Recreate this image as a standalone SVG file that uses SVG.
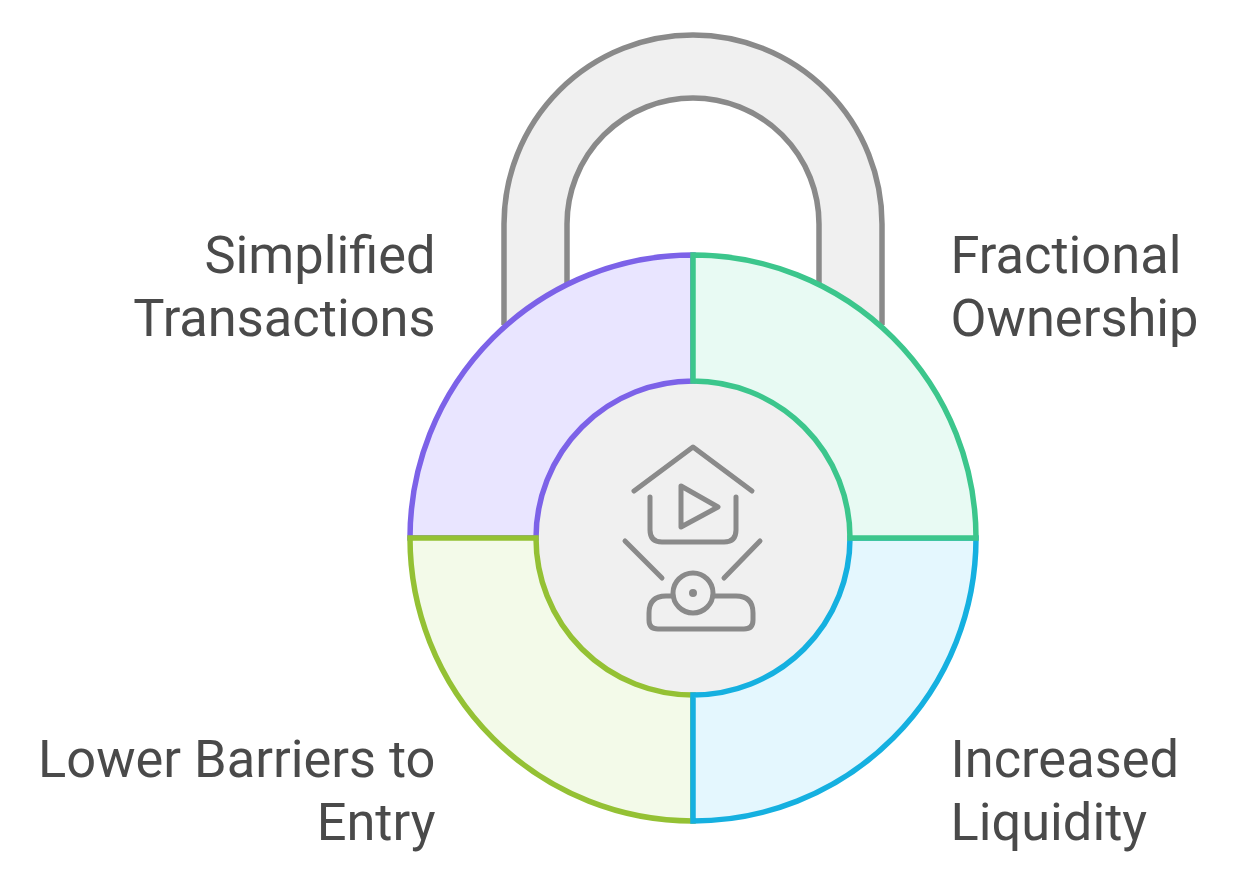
<svg xmlns="http://www.w3.org/2000/svg" width="1260" height="885" viewBox="0 0 1260 885">
<style>
.t{font-family:Roboto,"Liberation Sans",sans-serif;font-size:52.4px;fill:#4a4a4a}
.e{text-anchor:end}
.seg{stroke-width:5.5}
.ic{fill:none;stroke:#8a8a8a;stroke-width:5;stroke-linecap:round;stroke-linejoin:round}
</style>
<rect width="1260" height="885" fill="#fff"/>
<g id="shackle"><path d="M504 325V224A189 189 0 0 1 882 224V325L819 283V224A126 126 0 0 0 567 224V283Z" fill="#f0f0f0" stroke="none"/>
<path d="M504 325V224A189 189 0 0 1 882 224V325M819 283V224A126 126 0 0 0 567 224V283" fill="none" stroke="#8a8a8a" stroke-width="5.5"/></g>
<g id="center"><circle cx="693" cy="538" r="157" fill="#f0f0f0"/></g>
<g id="seg-simplified"><path class="seg" d="M693 255A283 283 0 0 0 410 538H536A157 157 0 0 1 693 381Z" fill="#e9e5ff" stroke="#7c62e8"/></g>
<g id="seg-barriers"><path class="seg" d="M693 821A283 283 0 0 1 410 538H536A157 157 0 0 0 693 695Z" fill="#f3fae9" stroke="#94c134"/></g>
<g id="seg-liquidity"><path class="seg" d="M976 538A283 283 0 0 1 693 821V695A157 157 0 0 0 850 538Z" fill="#e4f7fe" stroke="#15b0e0"/></g>
<g id="seg-fractional"><path class="seg" d="M693 255A283 283 0 0 1 976 538H850A157 157 0 0 0 693 381Z" fill="#e8faf3" stroke="#3cc68c"/></g>
<g id="icon" class="ic">
<path d="M634 491L693 447L752 491"/>
<path d="M650 497V530Q650 542 662 542H724Q736 542 736 530V497"/>
<path d="M681 486L718 507L681 527Z"/>
<path d="M625 541L662 578M760 541L724 578"/>
<circle cx="693" cy="593" r="20"/>
<path d="M673 596H666Q649 596 649 613V620Q649 629 658 629H744Q753 629 753 620V613Q753 596 736 596H713"/>
<circle cx="693" cy="593" r="1.5" fill="#8a8a8a"/>
</g>
<g id="labels">
<text class="t e" x="435.5" y="273">Simplified</text>
<text class="t e" x="435.5" y="336">Transactions</text>
<text class="t" x="950.5" y="273">Fractional</text>
<text class="t" x="950.5" y="336">Ownership</text>
<text class="t e" x="435.5" y="777">Lower Barriers to</text>
<text class="t e" x="435.5" y="840">Entry</text>
<text class="t" x="950.5" y="777">Increased</text>
<text class="t" x="950.5" y="840">Liquidity</text>
</g>
</svg>
